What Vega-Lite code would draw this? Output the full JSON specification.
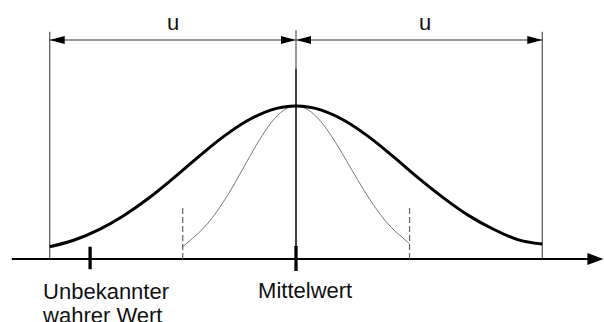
{
  "$schema": "https://vega.github.io/schema/vega-lite/v6.json",
  "width": 604,
  "height": 322,
  "padding": 0,
  "autosize": {"type": "none"},
  "background": "white",
  "config": {"view": {"stroke": null}},
  "datasets": {
    "vgray": [
      {"x": -1, "y": 0, "y2": 1.486},
      {"x": 1, "y": 0, "y2": 1.486},
      {"x": 0, "y": 1.242, "y2": 1.497}
    ],
    "vblack": [
      {"x": 0, "y": 0, "y2": 1.242}
    ],
    "topline": [
      {"x": -1, "x2": 1, "y": 1.431}
    ],
    "axisline": [
      {"x": -1.154, "x2": 1.2, "y": 0}
    ],
    "dashed": [
      {"x": -0.46, "y": 0, "y2": 0.353},
      {"x": 0.461, "y": 0, "y2": 0.353}
    ],
    "bold": [
      {"x": -1, "y": 0.08},
      {"x": -0.9, "y": 0.124},
      {"x": -0.8, "y": 0.192},
      {"x": -0.7, "y": 0.283},
      {"x": -0.6, "y": 0.395},
      {"x": -0.5, "y": 0.525},
      {"x": -0.4, "y": 0.662},
      {"x": -0.3, "y": 0.793},
      {"x": -0.2, "y": 0.902},
      {"x": -0.1, "y": 0.975},
      {"x": 0, "y": 1},
      {"x": 0.1, "y": 0.975},
      {"x": 0.2, "y": 0.902},
      {"x": 0.3, "y": 0.793},
      {"x": 0.4, "y": 0.662},
      {"x": 0.5, "y": 0.525},
      {"x": 0.6, "y": 0.398},
      {"x": 0.7, "y": 0.285},
      {"x": 0.8, "y": 0.196},
      {"x": 0.9, "y": 0.127},
      {"x": 1, "y": 0.098}
    ],
    "thin": [
      {"x": -0.46, "y": 0.08},
      {"x": -0.42, "y": 0.135},
      {"x": -0.38, "y": 0.194},
      {"x": -0.34, "y": 0.269},
      {"x": -0.3, "y": 0.36},
      {"x": -0.25, "y": 0.491},
      {"x": -0.2, "y": 0.635},
      {"x": -0.15, "y": 0.774},
      {"x": -0.1, "y": 0.893},
      {"x": -0.05, "y": 0.972},
      {"x": 0, "y": 1},
      {"x": 0.05, "y": 0.974},
      {"x": 0.1, "y": 0.9},
      {"x": 0.15, "y": 0.789},
      {"x": 0.2, "y": 0.656},
      {"x": 0.25, "y": 0.518},
      {"x": 0.3, "y": 0.388},
      {"x": 0.35, "y": 0.275},
      {"x": 0.4, "y": 0.186},
      {"x": 0.43, "y": 0.143},
      {"x": 0.461, "y": 0.1}
    ],
    "ticks": [
      {"x": -0.836, "y": -0.067, "y2": 0.08},
      {"x": 0, "y": -0.078, "y2": 0.085}
    ],
    "arrowLeft": [
      {"x": -1, "y": 1.431},
      {"x": 0, "y": 1.431}
    ],
    "arrowRight": [
      {"x": 0, "y": 1.431},
      {"x": 1, "y": 1.431}
    ],
    "axisArrow": [
      {"x": 1.248, "y": 0}
    ],
    "ulabels": [
      {"x": -0.499, "y": 1.497, "label": "u"},
      {"x": 0.524, "y": 1.497, "label": "u"}
    ],
    "labels": [
      {"x": -1.027, "y": -0.261, "label": "Unbekannter"},
      {"x": -1.027, "y": -0.418, "label": "wahrer Wert"},
      {"x": -0.154, "y": -0.255, "label": "Mittelwert"}
    ]
  },
  "encoding": {
    "x": {"field": "x", "type": "quantitative", "scale": {"domain": [-1.2018, 1.2505], "nice": false, "zero": false}, "axis": null},
    "y": {"field": "y", "type": "quantitative", "scale": {"domain": [-0.4118, 1.6928], "nice": false, "zero": false}, "axis": null}
  },
  "layer": [
    {
      "data": {"name": "vgray"},
      "mark": {"type": "rule", "color": "#555555", "strokeWidth": 1.2},
      "encoding": {"y2": {"field": "y2"}}
    },
    {
      "data": {"name": "vblack"},
      "mark": {"type": "rule", "color": "#111111", "strokeWidth": 1.6},
      "encoding": {"y2": {"field": "y2"}}
    },
    {
      "data": {"name": "topline"},
      "mark": {"type": "rule", "color": "#777777", "strokeWidth": 1.6},
      "encoding": {"x2": {"field": "x2"}}
    },
    {
      "data": {"name": "axisline"},
      "mark": {"type": "rule", "color": "#000000", "strokeWidth": 2},
      "encoding": {"x2": {"field": "x2"}}
    },
    {
      "data": {"name": "dashed"},
      "mark": {"type": "rule", "color": "#666666", "strokeWidth": 1.2, "strokeDash": [6, 3]},
      "encoding": {"y2": {"field": "y2"}}
    },
    {
      "data": {"name": "thin"},
      "mark": {"type": "line", "color": "#555555", "strokeWidth": 0.8, "interpolate": "monotone"},
      "encoding": {"order": {"field": "x", "type": "quantitative"}}
    },
    {
      "data": {"name": "bold"},
      "mark": {"type": "line", "color": "#000000", "strokeWidth": 3, "interpolate": "monotone"},
      "encoding": {"order": {"field": "x", "type": "quantitative"}}
    },
    {
      "data": {"name": "ticks"},
      "mark": {"type": "rule", "color": "#000000", "strokeWidth": 3.3},
      "encoding": {"y2": {"field": "y2"}}
    },
    {
      "data": {"name": "arrowLeft"},
      "mark": {"type": "point", "shape": "M0,0L2,-0.53L2,0.53Z", "filled": true, "size": 225, "color": "#000000", "opacity": 1, "strokeWidth": 0},
      "encoding": {}
    },
    {
      "data": {"name": "arrowRight"},
      "mark": {"type": "point", "shape": "M0,0L-2,-0.53L-2,0.53Z", "filled": true, "size": 225, "color": "#000000", "opacity": 1, "strokeWidth": 0},
      "encoding": {}
    },
    {
      "data": {"name": "axisArrow"},
      "mark": {"type": "point", "shape": "M0,0L-2,-0.75L-2,0.75Z", "filled": true, "size": 256, "color": "#000000", "opacity": 1, "strokeWidth": 0},
      "encoding": {}
    },
    {
      "data": {"name": "ulabels"},
      "mark": {"type": "text", "font": "Liberation Sans", "fontSize": 22, "align": "center", "baseline": "alphabetic", "color": "#111111"},
      "encoding": {"text": {"field": "label"}}
    },
    {
      "data": {"name": "labels"},
      "mark": {"type": "text", "font": "Liberation Sans", "fontSize": 22, "align": "left", "baseline": "alphabetic", "color": "#111111"},
      "encoding": {"text": {"field": "label"}}
    }
  ]
}
